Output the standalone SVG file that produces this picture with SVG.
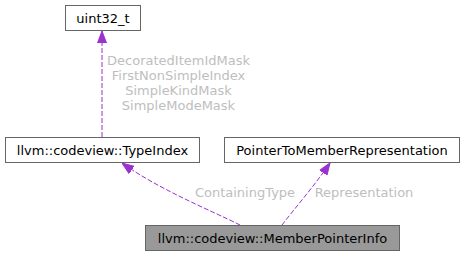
<svg xmlns="http://www.w3.org/2000/svg" width="464" height="256" viewBox="0 0 464 256">
  <defs>
    <style>
      .node rect { fill: #ffffff; stroke: #666666; stroke-width: 1; }
      .node.main rect { fill: #999999; }
      .node text { font-family: "DejaVu Sans", sans-serif; font-size: 13px; fill: #000000; text-anchor: middle; }
      .edge { fill: none; stroke: #9a32cd; stroke-width: 1; stroke-dasharray: 5,2; }
      .elabel { font-family: "DejaVu Sans", sans-serif; font-size: 13px; fill: #bebebe; text-anchor: middle; }
    </style>
    <marker id="arrow" viewBox="0 0 12 10" refX="12" refY="5" markerWidth="12" markerHeight="10" markerUnits="userSpaceOnUse" orient="auto">
      <path d="M0,0.5 L12,5 L0,9.5 Z" fill="#9a32cd" stroke="#9a32cd" stroke-width="1"/>
    </marker>
  </defs>

  <g id="connectors">
    <path class="edge" d="M102,137 L102,31" marker-end="url(#arrow)"/>
    <text class="elabel" x="178.5" y="65">DecoratedItemIdMask</text>
    <text class="elabel" x="178.5" y="80">FirstNonSimpleIndex</text>
    <text class="elabel" x="178.5" y="95">SimpleKindMask</text>
    <text class="elabel" x="178.5" y="110">SimpleModeMask</text>

    <path class="edge" d="M240,225 C210,210 160,190 122,163" marker-end="url(#arrow)"/>
    <text class="elabel" x="245" y="197">ContainingType</text>

    <path class="edge" d="M282,225 C295,208 315,185 330,163" marker-end="url(#arrow)"/>
    <text class="elabel" x="364" y="197">Representation</text>
  </g>

  <g id="node-uint32" class="node">
    <rect x="65.5" y="5.5" width="75" height="25"/>
    <text x="103" y="22.5">uint32_t</text>
  </g>

  <g id="node-typeindex" class="node">
    <rect x="5.5" y="137.5" width="194" height="25"/>
    <text x="102.5" y="154.5">llvm::codeview::TypeIndex</text>
  </g>

  <g id="node-ptmr" class="node">
    <rect x="224.5" y="137.5" width="235" height="25"/>
    <text x="342" y="154.5">PointerToMemberRepresentation</text>
  </g>

  <g id="node-mpi" class="node main">
    <rect x="145.5" y="225.5" width="254" height="25"/>
    <text x="272.5" y="242.5">llvm::codeview::MemberPointerInfo</text>
  </g>
</svg>
